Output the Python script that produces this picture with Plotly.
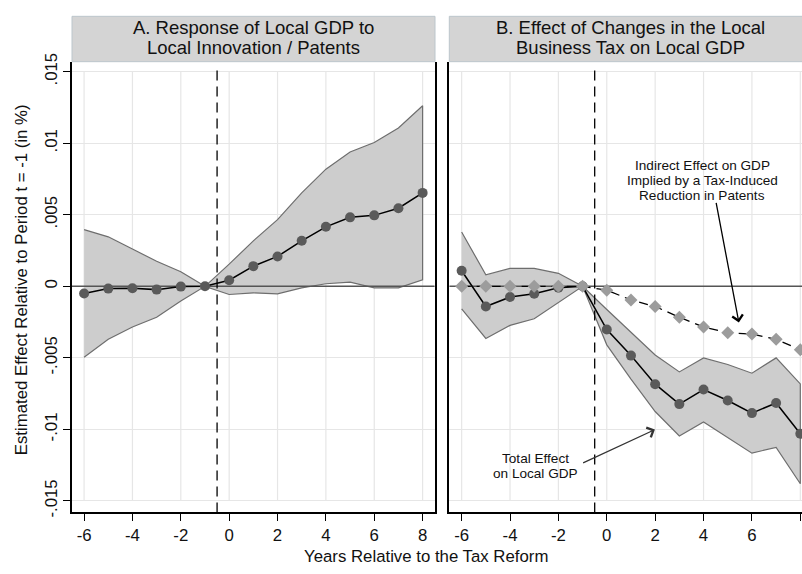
import plotly.graph_objects as go

# ---- data ---------------------------------------------------------------
years = [-6, -5, -4, -3, -2, -1, 0, 1, 2, 3, 4, 5, 6, 7, 8]

# Panel A: response of local GDP to local innovation / patents
gdp_patents = [-0.0005, -0.00016, -0.00014, -0.00023, -0.00002, 0.0, 0.00043, 0.00141,
               0.00209, 0.00318, 0.00416, 0.00482, 0.00496, 0.00546, 0.00653]
gdp_patents_hi = [0.00396, 0.00346, 0.00261, 0.00175, 0.00102, 0.0, 0.00155, 0.00318,
                  0.00466, 0.00653, 0.00819, 0.00939, 0.01005, 0.01107, 0.01262]
gdp_patents_lo = [-0.00496, -0.0037, -0.00284, -0.00216, -0.00102, 0.0, -0.00057, -0.00046,
                  -0.00052, -0.00011, 0.00018, 0.00029, -0.00011, -0.00011, 0.00046]

# Panel B: effect of local business tax changes on local GDP
total_effect = [0.00109, -0.00141, -0.00075, -0.00052, -0.0001, 0.0, -0.00302, -0.00484,
                -0.00684, -0.00823, -0.00721, -0.00798, -0.00886, -0.00815, -0.0103]
total_hi = [0.0038, 0.0008, 0.00125, 0.00125, 0.00091, 0.0, -0.00162, -0.00318,
            -0.0048, -0.00598, -0.005, -0.00546, -0.00607, -0.005, -0.00682]
total_lo = [-0.00157, -0.00364, -0.00273, -0.00227, -0.00114, 0.0, -0.00409, -0.00648,
            -0.00875, -0.01046, -0.00948, -0.01057, -0.01166, -0.01125, -0.0138]
indirect_effect = [0.0, 0.0, 0.0, 0.0, 0.0, 0.0, -0.00027, -0.00095, -0.00141, -0.00216,
                   -0.00284, -0.00325, -0.00334, -0.0037, -0.00443]

y_ticks = [0.015, 0.01, 0.005, 0.0, -0.005, -0.01, -0.015]
y_tick_text = [".015", ".01", ".005", "0", "-.005", "-.01", "-.015"]
x_ticks = [-6, -4, -2, 0, 2, 4, 6, 8]
x_tick_text = ["-6", "-4", "-2", "0", "2", "4", "6", "8"]

panel_titles = [["A. Response of Local GDP to", "Local Innovation / Patents"],
                ["B. Effect of Changes in the Local", "Business Tax on Local GDP"]]
indirect_label = ["Indirect Effect on GDP", "Implied by a Tax-Induced", "Reduction in Patents"]
total_label = ["Total Effect", "on Local GDP"]

# ---- styling ------------------------------------------------------------
W, H = 802, 574
FONT = "Liberation Sans, Arial, sans-serif"
BAND_FILL = "#cdcdcd"
BAND_EDGE = "#6e6e6e"
DOT = "#5a5a5a"
DIAMOND = "#9c9c9c"
GRID = "#e6e6e6"

Y_RANGE = [-0.0158, 0.0157]
XA_RANGE = [-6.5, 8.5]
XB_RANGE = [-6.51, 8.07]


def px(xp):
    return xp / W


def py(yp):
    return 1 - yp / H


fig = go.Figure()


def add_band(xaxis, yaxis, hi, lo):
    fig.add_trace(go.Scatter(
        x=years + years[::-1], y=hi + lo[::-1], xaxis=xaxis, yaxis=yaxis,
        mode="lines", fill="toself", fillcolor=BAND_FILL,
        line=dict(color=BAND_EDGE, width=1.2), hoverinfo="skip", showlegend=False))


def add_zero(xaxis, yaxis, rng):
    fig.add_trace(go.Scatter(
        x=rng, y=[0, 0], xaxis=xaxis, yaxis=yaxis, mode="lines",
        line=dict(color="#555555", width=1.5), hoverinfo="skip", showlegend=False))


# Panel A
add_band("x", "y", gdp_patents_hi, gdp_patents_lo)
add_zero("x", "y", XA_RANGE)
fig.add_trace(go.Scatter(
    x=years, y=gdp_patents, xaxis="x", yaxis="y", mode="lines+markers",
    line=dict(color="black", width=1.5),
    marker=dict(color=DOT, size=10, symbol="circle"), showlegend=False))

# Panel B
add_band("x2", "y2", total_hi, total_lo)
add_zero("x2", "y2", XB_RANGE)
fig.add_trace(go.Scatter(
    x=years, y=total_effect, xaxis="x2", yaxis="y2", mode="lines+markers",
    line=dict(color="black", width=1.5),
    marker=dict(color=DOT, size=10, symbol="circle"), showlegend=False))
fig.add_trace(go.Scatter(
    x=years, y=indirect_effect, xaxis="x2", yaxis="y2", mode="lines+markers",
    line=dict(color="black", width=1.3, dash="9px,6px"),
    marker=dict(color=DIAMOND, size=10, symbol="diamond"), showlegend=False))

shapes = []
# vertical grid lines spanning the tick range only
for xr in ("x", "x2"):
    for xv in x_ticks:
        shapes.append(dict(type="line", xref=xr, yref="y" if xr == "x" else "y2",
                           x0=xv, x1=xv, y0=-0.015, y1=0.015, layer="below",
                           line=dict(color=GRID, width=1.2)))
# reform date
for xr, yr in (("x", "y domain"), ("x2", "y2 domain")):
    shapes.append(dict(type="line", xref=xr, yref=yr, x0=-0.5, x1=-0.5, y0=0, y1=0.987,
                       layer="above", line=dict(color="black", width=1.3, dash="10px,6px")))
# panel header boxes
shapes.append(dict(type="rect", xref="paper", yref="paper", x0=px(72), x1=px(435),
                   y0=py(54), y1=py(7.5), fillcolor="#d4d4d4",
                   line=dict(color="#bcc6cc", width=1)))
shapes.append(dict(type="rect", xref="paper", yref="paper", x0=px(449.3), x1=px(812),
                   y0=py(54), y1=py(7.5), fillcolor="#d4d4d4",
                   line=dict(color="#bcc6cc", width=1)))


def text_line(t, xp, yp, size):
    # one line of a stacked label, placed individually for tight line spacing
    return dict(text=t, xref="paper", yref="paper", x=px(xp), y=py(yp),
                xanchor="center", yanchor="middle", borderpad=0, borderwidth=0,
                showarrow=False, font=dict(family=FONT, size=size, color="#111"))


annotations = []
for cx, lines in ((253.5, panel_titles[0]), (630.5, panel_titles[1])):
    for i, t in enumerate(lines):
        annotations.append(text_line(t, cx, 19.0 + 20.8 * i, 18.5))

# callout labels in panel B
for i, t in enumerate(indirect_label):
    annotations.append(text_line(t, 702, 160.8 + 15.3 * i, 13.6))
for i, t in enumerate(total_label):
    annotations.append(text_line(t, 535.3, 460.8 + 15.3 * i, 13.6))

# arrows
annotations.append(dict(text="", xref="x2", yref="y2", x=5.46, y=-0.00252,
                        axref="x2", ayref="y2", ax=4.51, ay=0.00593, showarrow=True,
                        arrowhead=4, arrowsize=1.6, arrowwidth=1.3, arrowcolor="black"))
annotations.append(dict(text="", xref="x2", yref="y2", x=1.99, y=-0.01001,
                        axref="x2", ayref="y2", ax=-1.04, ay=-0.01239, showarrow=True,
                        arrowhead=4, arrowsize=1.6, arrowwidth=1.3, arrowcolor="#333333"))

# axis titles
annotations.append(dict(text="Estimated Effect Relative to Period t = -1 (in %)",
                        xref="paper", yref="paper", x=px(21), y=py(278), textangle=-90,
                        xanchor="center", yanchor="middle", showarrow=False,
                        font=dict(family=FONT, size=16.8, color="#111")))
annotations.append(dict(text="Years Relative to the Tax Reform",
                        xref="paper", yref="paper", x=px(425.5), y=py(561.5),
                        xanchor="center", yanchor="middle", showarrow=False,
                        font=dict(family=FONT, size=16.8, color="#111")))

tickfont = dict(family=FONT, size=16.8, color="#111")
common_x = dict(tickvals=x_ticks, ticktext=x_tick_text, ticks="outside", ticklen=7,
                tickwidth=1.2, tickcolor="black", showgrid=False, zeroline=False,
                showline=True, linecolor="black", linewidth=1.5, tickfont=tickfont)

fig.update_layout(
    width=W, height=H, margin=dict(l=0, r=0, t=0, b=0),
    paper_bgcolor="white", plot_bgcolor="white", showlegend=False,
    xaxis=dict(common_x, domain=[px(72), px(434.7)], anchor="y", range=XA_RANGE),
    xaxis2=dict(common_x, domain=[px(449.3), 1.0], anchor="y2", range=XB_RANGE),
    yaxis=dict(domain=[py(516), py(54)], range=Y_RANGE, anchor="x", tickvals=y_ticks,
               ticktext=y_tick_text, tickangle=-90, ticks="outside", ticklen=7,
               tickwidth=1.2, tickcolor="black", showgrid=True, gridcolor=GRID,
               gridwidth=1.2, zeroline=False, showline=True, mirror=True,
               linecolor="black", linewidth=1.5, tickfont=tickfont),
    yaxis2=dict(domain=[py(516), py(54)], range=Y_RANGE, anchor="x2", tickvals=y_ticks,
                showticklabels=False, ticks="", showgrid=True, gridcolor=GRID,
                gridwidth=1.2, zeroline=False, showline=True, linecolor="black",
                linewidth=1.5),
    shapes=shapes, annotations=annotations,
)

fig.write_html("out.html")
